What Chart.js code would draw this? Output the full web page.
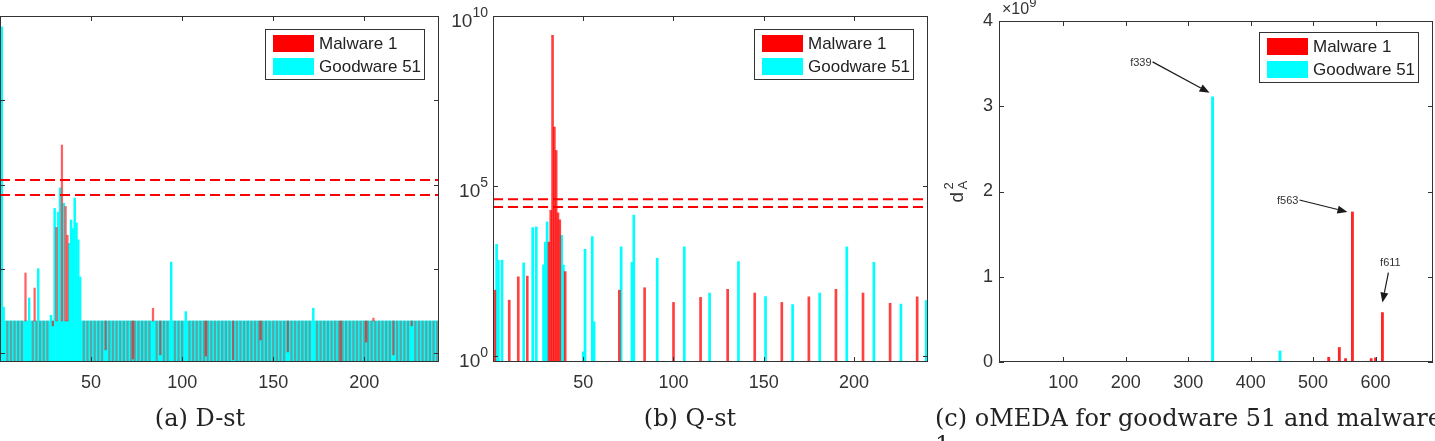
<!DOCTYPE html>
<html>
<head>
<meta charset="utf-8">
<script src="https://cdn.jsdelivr.net/npm/chart.js@4.4.0/dist/chart.umd.min.js"></script>
<style>
  html, body { margin: 0; padding: 0; background: #fff; }
  body { width: 1435px; height: 441px; position: relative; overflow: hidden; }
  canvas { position: absolute; top: 0; }
  .cap { position: absolute; font-family: "DejaVu Serif", serif; font-size: 24px; line-height: 27px; color: #222; white-space: nowrap; }
</style>
</head>
<body>
<canvas id="dst" width="445" height="441" style="left:0;width:445px;height:441px"></canvas>
<canvas id="qst" width="490" height="441" style="left:445px;width:490px;height:441px"></canvas>
<canvas id="omeda" width="500" height="441" style="left:935px;width:500px;height:441px"></canvas>
<div class="cap" style="left:0;width:400px;top:405px;text-align:center">(a) D-st</div>
<div class="cap" style="left:590px;width:200px;top:405px;text-align:center">(b) Q-st</div>
<div class="cap" style="left:935px;top:405px">(c) oMEDA for goodware 51 and malware<br>1</div>
<script>
const _ = null;
const Z = 1e-3;  // D-st value far below the visible axis
const F = 2.4;   // top of the filled band in (a)

const seriesNames = ['Malware 1', 'Goodware 51'];
const obsCount = 240;

// (a) D-st, log axis; malware bars hang from the band level
const dstBase = 2.4;
const dstLimits = [113, 75];
const dstTicks = [1, 10, 100, 1000, 10000];
const dstGoodware = [
  7400, 3.5, F, F, F, F, F, F, F, F, F, F, F, F, F, 4.5, F, F, F, F,
  10, F, F, F, F, F, F, 2.8, F, 52, F, 47, 91, F, 60, F, F, 20, 38, 30,
  69, 35, 22, 8, F, F, F, F, F, F, F, F, F, F, F, F, F, F, F, F,
  F, F, F, F, F, F, F, F, F, F, F, F, F, F, F, F, F, F, F, F,
  F, F, F, F, F, F, F, F, F, F, F, F, F, 12, F, F, F, F, F, F,
  F, 3.1, F, F, F, F, F, F, F, F, F, F, F, F, F, F, F, F, F, F,
  F, F, F, F, F, F, F, F, F, F, F, F, F, F, F, F, F, F, F, F,
  F, F, F, F, F, F, F, F, F, F, F, F, F, F, F, F, F, F, F, F,
  F, F, F, F, F, F, F, F, F, F, F, 3.4, F, F, F, F, F, F, F, F,
  F, F, F, F, F, F, F, F, F, F, F, F, F, F, F, F, F, F, F, F,
  F, F, F, F, F, F, F, F, F, F, F, F, F, F, F, F, F, F, F, F,
  F, F, F, F, F, F, F, F, F, F, F, F, F, F, F, F, F, F, F, F
];
const dstMalware = [
  _, _, _, Z, _, Z, _, Z, _, Z, _, Z, _, 8.9, _, _, _, Z, 5.9, Z,
  _, Z, _, Z, _, Z, _, _, 2.1, _, 31, _, _, 294, _, 55, 25, _, _, _,
  _, _, _, _, _, Z, _, Z, _, Z, _, Z, _, Z, _, Z, _, 1.09, _, Z,
  _, Z, _, Z, _, Z, _, Z, _, Z, _, Z, 0.85, Z, _, Z, _, Z, _, Z,
  _, Z, _, 3.4, _, Z, _, 0.95, _, Z, _, Z, _, _, _, Z, _, Z, _, Z,
  _, _, _, Z, _, Z, _, Z, _, Z, _, Z, 0.92, Z, _, Z, _, Z, _, Z,
  _, Z, _, Z, _, Z, _, 0.83, _, Z, _, Z, _, Z, _, Z, _, Z, _, Z,
  _, Z, 1.43, Z, _, Z, _, Z, _, Z, _, Z, _, Z, _, Z, _, 1.03, _, Z,
  _, Z, _, Z, _, Z, _, Z, _, Z, _, _, _, Z, _, Z, _, Z, _, Z,
  _, Z, _, Z, _, Z, 0.79, Z, _, Z, _, Z, _, Z, _, Z, _, Z, _, Z,
  1.35, Z, _, Z, 2.6, Z, _, Z, _, Z, _, Z, _, Z, _, 0.95, _, Z, _, Z,
  _, Z, _, Z, _, 2.1, _, Z, _, Z, _, Z, _, Z, _, Z, _, Z, _, Z
];

// (b) Q-st, log axis
const qstLimits = [4.0e4, 2.4e4];
const qstTicks = [1, 1e5, 1e10];
const qstTickExp = ['0', '5', '10'];
const qstMalwareObs = [1, 9, 14, 19, 31, 32, 33, 34, 35, 36, 37, 40, 70, 84, 100, 115, 130, 145, 160, 175, 190, 205, 220, 235];
const qstMalwareVal = [85, 43, 210, 220, 2200, 1.9e4, 2.7e9, 5.4e6, 1.1e6, 1.6e4, 1.0e4, 300, 85, 100, 37, 52, 90, 70, 37, 54, 90, 70, 35, 54];
const qstGoodwareObs = [2, 3, 5, 17, 22, 24, 28, 29, 30, 38, 39, 50, 51, 55, 56, 71, 77, 78, 91, 106, 120, 136, 151, 166, 181, 196, 211, 226, 240];
const qstGoodwareVal = [1900, 650, 650, 540, 5900, 6200, 470, 2200, 8700, 3500, 470, 1.3, 1350, 3200, 10, 1600, 560, 13800, 740, 1600, 70, 590, 55, 32, 70, 1600, 560, 33, 42];

// (c) oMEDA, linear axis (x 1e9)
const omedaGoodwareFeat = [339, 447];
const omedaGoodwareVal = [3.11e9, 0.13e9];
const omedaMalwareFeat = [525, 542, 552, 563, 593, 600, 611];
const omedaMalwareVal = [0.055e9, 0.17e9, 0.04e9, 1.76e9, 0.04e9, 0.05e9, 0.58e9];
const omedaXTicks = [100, 200, 300, 400, 500, 600];
const omedaYTicks = [0, 1e9, 2e9, 3e9, 4e9];
const omedaYLabels = ['0', '1', '2', '3', '4'];
const annText = ['f339', 'f563', 'f611'];
const annFeat = [339, 563, 611];
const annVal = [3.11e9, 1.76e9, 0.58e9];

const obsTicks = [50, 100, 150, 200];
const obsLabels = Array.from({length: obsCount}, (v, i) => i + 1);

const RED = '#ff0000', CYAN = '#00ffff';
const FONT = '"Liberation Sans", Arial, sans-serif';
const tickColor = '#333';

function spread(obs, vals) {
  const out = new Array(obsCount).fill(null);
  obs.forEach((o, i) => { out[o - 1] = vals[i]; });
  return out;
}

function limitLine(y, xmax) {
  return {
    type: 'line', label: 'limit', order: 0,
    data: [{x: 0, y: y}, {x: xmax, y: y}],
    borderColor: RED, borderWidth: 2, borderDash: [10, 5],
    pointRadius: 0, fill: false
  };
}

function drawLegend(ctx, a, topOff, chart) {
  const items = chart.data.datasets.filter(d => d.type !== 'line');
  const w = 160, h = 51;
  const left = a.right - 14 - w, top = a.top + topOff;
  ctx.fillStyle = '#fff';
  ctx.fillRect(left, top, w, h);
  ctx.strokeStyle = '#333';
  ctx.lineWidth = 1;
  ctx.strokeRect(left + 0.5, top + 0.5, w - 1, h - 1);
  ctx.font = '17px ' + FONT;
  ctx.textAlign = 'left';
  ctx.textBaseline = 'middle';
  items.forEach((d, i) => {
    ctx.fillStyle = d.swatch;
    ctx.fillRect(left + 8, top + 6 + i * 23, 41, 17);
    ctx.fillStyle = '#222';
    ctx.fillText(d.label, left + 54, top + 15 + i * 23);
  });
}

function frame(o) {
  return {
    id: 'frame',
    afterDraw(chart) {
      const {ctx, chartArea: a} = chart;
      const xs = chart.scales.x, ys = chart.scales.y;
      ctx.save();
      ctx.strokeStyle = '#333';
      ctx.lineWidth = 1;
      ctx.strokeRect(a.left + 0.5, a.top + 0.5, a.width - 1, a.height - 1);
      ctx.beginPath();
      o.xTicks.forEach(v => {
        const px = Math.round(xs.getPixelForValue(v)) + 0.5;
        ctx.moveTo(px, a.bottom); ctx.lineTo(px, a.bottom - 5);
        ctx.moveTo(px, a.top); ctx.lineTo(px, a.top + 5);
      });
      o.yTicks.forEach(v => {
        const py = Math.round(ys.getPixelForValue(v)) + 0.5;
        ctx.moveTo(a.left, py); ctx.lineTo(a.left + 5, py);
        ctx.moveTo(a.right, py); ctx.lineTo(a.right - 5, py);
      });
      ctx.stroke();
      ctx.fillStyle = tickColor;
      ctx.font = '18px ' + FONT;
      ctx.textAlign = 'center';
      ctx.textBaseline = 'middle';
      o.xTicks.forEach(v => ctx.fillText(String(v), xs.getPixelForValue(v), a.bottom + 21));
      if (o.extra) o.extra(ctx, a, xs, ys);
      drawLegend(ctx, a, o.legendTop, chart);
      ctx.restore();
    }
  };
}

function baseOptions(pad, xmin, xmax, yScale) {
  return {
    responsive: false, animation: false, devicePixelRatio: 1,
    layout: {padding: pad},
    plugins: {legend: {display: false}, tooltip: {enabled: false}},
    scales: {
      x: {type: 'linear', min: xmin, max: xmax, offset: false, display: false},
      y: Object.assign({display: false}, yScale)
    }
  };
}

// (a) D-st
new Chart(document.getElementById('dst'), {
  type: 'bar',
  data: {
    labels: obsLabels,
    datasets: [
      limitLine(dstLimits[0], 241), limitLine(dstLimits[1], 241),
      {label: seriesNames[0], swatch: RED, data: dstMalware,
       backgroundColor: c => (c.raw !== null && c.raw < 0.1) ? 'rgba(255,0,0,0.35)' : 'rgba(255,0,0,0.62)',
       base: dstBase, grouped: false, barThickness: 1.6, order: 1},
      {label: seriesNames[1], swatch: CYAN, data: dstGoodware,
       backgroundColor: CYAN, grouped: false, barThickness: 1.8, order: 2}
    ]
  },
  options: baseOptions({left: 0, top: 16, right: 6, bottom: 79}, 0, 241,
    {type: 'logarithmic', min: 0.782, max: 1e4}),
  plugins: [frame({xTicks: obsTicks, yTicks: dstTicks, legendTop: 13})]
});

// (b) Q-st
new Chart(document.getElementById('qst'), {
  type: 'bar',
  data: {
    labels: obsLabels,
    datasets: [
      limitLine(qstLimits[0], 241), limitLine(qstLimits[1], 241),
      {label: seriesNames[0], swatch: RED, data: spread(qstMalwareObs, qstMalwareVal),
       backgroundColor: 'rgba(255,0,0,0.75)', grouped: false, barThickness: 2, order: 1},
      {label: seriesNames[1], swatch: CYAN, data: spread(qstGoodwareObs, qstGoodwareVal),
       backgroundColor: CYAN, grouped: false, barThickness: 2, order: 2}
    ]
  },
  options: baseOptions({left: 48, top: 16, right: 7, bottom: 79}, 0, 241,
    {type: 'logarithmic', min: 0.652, max: 1e10}),
  plugins: [frame({
    xTicks: obsTicks, yTicks: qstTicks, legendTop: 13,
    extra(ctx, a, xs, ys) {
      ctx.textAlign = 'right';
      ctx.textBaseline = 'middle';
      qstTicks.forEach((v, i) => {
        const py = ys.getPixelForValue(v);
        ctx.font = '14px ' + FONT;
        const ew = ctx.measureText(qstTickExp[i]).width;
        ctx.fillText(qstTickExp[i], a.left - 5, py - 3);
        ctx.font = '19px ' + FONT;
        ctx.fillText('10', a.left - 5 - ew, py + 6);
      });
    }
  })]
});

// (c) oMEDA
function arrow(ctx, x0, y0, x1, y1) {
  const ang = Math.atan2(y1 - y0, x1 - x0), L = 10, W = 4;
  ctx.beginPath();
  ctx.moveTo(x0, y0);
  ctx.lineTo(x1 - L * Math.cos(ang), y1 - L * Math.sin(ang));
  ctx.stroke();
  ctx.beginPath();
  ctx.moveTo(x1, y1);
  ctx.lineTo(x1 - L * Math.cos(ang) + W * Math.sin(ang), y1 - L * Math.sin(ang) - W * Math.cos(ang));
  ctx.lineTo(x1 - L * Math.cos(ang) - W * Math.sin(ang), y1 - L * Math.sin(ang) + W * Math.cos(ang));
  ctx.closePath();
  ctx.fill();
}
const annTip = [[-3, -4], [-5, 0], [0, -10]];
const annTail = [[-60, -35], [-53, -12], [6, -40]];

new Chart(document.getElementById('omeda'), {
  type: 'bar',
  data: {
    datasets: [
      {label: seriesNames[0], swatch: RED,
       data: omedaMalwareFeat.map((f, i) => ({x: f, y: omedaMalwareVal[i]})),
       backgroundColor: 'rgba(255,0,0,0.85)', grouped: false, barThickness: 2.2, order: 1},
      {label: seriesNames[1], swatch: CYAN,
       data: omedaGoodwareFeat.map((f, i) => ({x: f, y: omedaGoodwareVal[i]})),
       backgroundColor: CYAN, grouped: false, barThickness: 2.2, order: 2}
    ]
  },
  options: baseOptions({left: 64, top: 21, right: 2, bottom: 79}, -3, 692,
    {type: 'linear', min: 0, max: 4e9}),
  plugins: [frame({
    xTicks: omedaXTicks, yTicks: omedaYTicks, legendTop: 11,
    extra(ctx, a, xs, ys) {
      ctx.fillStyle = tickColor;
      ctx.font = '18px ' + FONT;
      ctx.textAlign = 'right';
      ctx.textBaseline = 'middle';
      omedaYTicks.forEach((v, i) => ctx.fillText(omedaYLabels[i], a.left - 6, ys.getPixelForValue(v)));
      // exponent marker
      ctx.textAlign = 'left';
      ctx.font = '16px ' + FONT;
      ctx.fillText('\u00d710', a.left + 3, 10);
      const w = ctx.measureText('\u00d710').width;
      ctx.font = '13px ' + FONT;
      ctx.fillText('9', a.left + 3 + w, 3);
      // axis title d^2_A
      ctx.save();
      ctx.translate(a.left - 42, (a.top + a.bottom) / 2);
      ctx.rotate(-Math.PI / 2);
      ctx.textBaseline = 'alphabetic';
      ctx.font = '19px ' + FONT;
      ctx.fillText('d', -11, 6);
      ctx.font = '13px ' + FONT;
      ctx.fillText('2', 2, -4);
      ctx.fillText('A', 2, 10);
      ctx.restore();
      // annotations
      ctx.strokeStyle = '#1a1a1a';
      ctx.lineWidth = 1.2;
      annFeat.forEach((f, i) => {
        const px = xs.getPixelForValue(f), py = ys.getPixelForValue(annVal[i]);
        const tx = px + annTail[i][0], ty = py + annTail[i][1];
        ctx.fillStyle = '#1a1a1a';
        arrow(ctx, tx, ty, px + annTip[i][0], py + annTip[i][1]);
        ctx.font = '11px ' + FONT;
        ctx.fillStyle = '#333';
        if (i < 2) { ctx.textAlign = 'right'; ctx.fillText(annText[i], tx - 1, ty + 1); }
        else { ctx.textAlign = 'center'; ctx.fillText(annText[i], tx + 2, ty - 10); }
      });
    }
  })]
});
</script>
</body>
</html>
